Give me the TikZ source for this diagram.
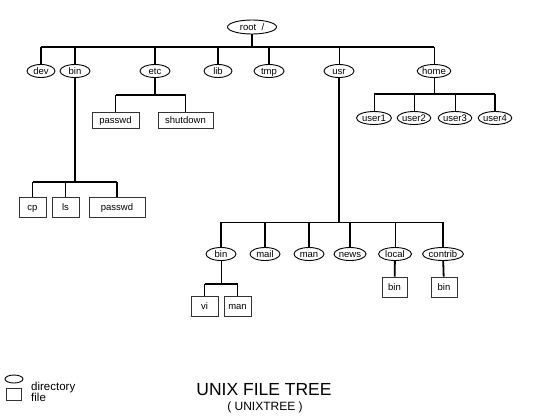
\documentclass[tikz,border=0pt]{standalone}
\usepackage{fontspec}
\setmainfont{Liberation Sans}
\usetikzlibrary{shapes.geometric}

\begin{document}
\begin{tikzpicture}[
            x=1pt, y=-1pt,
            every node/.style={font=\fontsize{9.5}{10}\selectfont, inner sep=0pt},
            dir/.style={draw, ellipse, line width=0.9pt, minimum width=28pt, minimum height=13pt, text height=7.5pt, text depth=1pt},
            file/.style={draw=black!80, rectangle, line width=0.9pt, minimum width=27pt, minimum height=20pt, text height=7.5pt, text depth=1pt},
            thickline/.style={line width=1.8pt},
            thinline/.style={line width=0.9pt},
            ]
            \useasboundingbox (0,0) rectangle (543,416);
            % directories
            \node[dir, minimum width=49pt, minimum height=14pt] (root) at (252,27) {root\ \ /};
            \node[dir] (dev) at (41,71) {dev};
            \node[dir, minimum width=30pt] (bin) at (75,71) {bin};
            \node[dir, minimum width=30pt] (etc) at (155,71) {etc};
            \node[dir] (lib) at (218,71) {lib};
            \node[dir, minimum width=30pt] (tmp) at (269,71) {tmp};
            \node[dir, minimum width=30pt] (usr) at (339,71) {usr};
            \node[dir, minimum width=30pt] (home) at (434,71) {home};
            \node[dir, minimum width=35pt] (user1) at (374,118) {user1};
            \node[dir, minimum width=33pt] (user2) at (414,118) {user2};
            \node[dir, minimum width=33pt] (user3) at (455,118) {user3};
            \node[dir, minimum width=33pt] (user4) at (495,118) {user4};
            \node[dir, minimum width=30pt] (ubin) at (221,254) {bin};
            \node[dir, minimum width=30pt] (mail) at (265,254) {mail};
            \node[dir, minimum width=30pt] (man) at (309,254) {man};
            \node[dir, minimum width=32pt] (news) at (350,254) {news};
            \node[dir, minimum width=33pt] (local) at (395,254) {local};
            \node[dir, minimum width=41pt] (contrib) at (443,254) {contrib};
            % files
            \node[file, minimum width=47pt, minimum height=16pt] (epasswd) at (115.5,120) {passwd};
            \node[file, minimum width=55pt, minimum height=16pt] (shutdown) at (185.5,120) {shutdown};
            \node[file] (cp) at (32.5,207) {cp};
            \node[file] (ls) at (65.5,207) {ls};
            \node[file, minimum width=56pt] (bpasswd) at (117,207) {passwd};
            \node[file] (vi) at (204.5,306) {vi};
            \node[file] (uman) at (237.5,306) {man};
            \node[file, minimum width=25pt] (lbin) at (394.5,287) {bin};
            \node[file, minimum width=26pt] (cbin) at (444,287) {bin};
            % junctions
            \coordinate (rootj) at (252,47);
            \coordinate (etcj) at (155,95);
            \coordinate (binj) at (75,182);
            \coordinate (usrj) at (339,222);
            \coordinate (ubinj) at (221,284);
            \coordinate (homej) at (434,94);
            % root
            \draw[thickline] (root) -- (rootj);
            \draw[thickline] (rootj -| dev) -- (rootj -| home);
            \draw[thickline] (rootj -| dev) -- (dev);
            \draw[thickline] (rootj -| bin) -- (bin);
            \draw[thickline] (rootj -| etc) -- (etc);
            \draw[thickline] (rootj -| lib) -- (lib);
            \draw[thickline] (rootj -| tmp) -- (tmp);
            \draw[thinline] (rootj -| usr) -- (usr);
            \draw[thinline] (rootj -| home) -- (home);
            % etc
            \draw[thickline] (etc) -- (etcj);
            \draw[thickline] (etcj -| epasswd) -- (etcj -| shutdown);
            \draw[thickline] (etcj -| epasswd) -- (epasswd);
            \draw[thickline] (etcj -| shutdown) -- (shutdown);
            % bin
            \draw[thickline] (bin) -- (binj);
            \draw[thickline] (binj -| cp) -- (binj -| bpasswd);
            \draw[thickline] (binj -| cp) -- (cp);
            \draw[thickline] (binj -| ls) -- (ls);
            \draw[thickline] (binj -| bpasswd) -- (bpasswd);
            % home
            \draw[thinline] (home) -- (homej);
            \draw[thickline] (homej -| user1) -- (homej -| user4);
            \draw[thinline] (homej -| user1) -- (user1);
            \draw[thinline] (homej -| user2) -- (user2);
            \draw[thinline] (homej -| user3) -- (user3);
            \draw[thickline] (homej -| user4) -- (user4);
            % usr
            \draw[thickline] (usr) -- (usrj);
            \draw[thinline] (usrj -| ubin) -- (usrj -| contrib);
            \draw[thickline] (usrj -| ubin) -- (ubin);
            \draw[thickline] (usrj -| mail) -- (mail);
            \draw[thickline] (usrj -| man) -- (man);
            \draw[thickline] (usrj -| news) -- (news);
            \draw[thinline] (usrj -| local) -- (local);
            \draw[thickline] (usrj -| contrib) -- (contrib);
            \draw[thinline] (ubin) -- (ubinj);
            \draw[thickline] (ubinj -| vi) -- (ubinj -| uman);
            \draw[thickline] (ubinj -| vi) -- (vi);
            \draw[thickline] (ubinj -| uman) -- (uman);
            \draw[thickline] (local) -- (lbin);
            \draw[thickline] (contrib) -- (cbin);
            % legend and title
            \node[dir, minimum width=18pt, minimum height=8pt, text height=0pt, text depth=0pt] (legdir) at (14,379) {};
            \node[file, minimum width=15pt, minimum height=12pt, text height=0pt, text depth=0pt] (legfile) at (13.5,394) {};
            \node[anchor=base west, font=\fontsize{11.5}{11.5}\selectfont] (legdirtext) at (31,390) {directory};
            \node[anchor=base west, font=\fontsize{11.5}{11.5}\selectfont] (legfiletext) at (31,401) {file};
            \node[anchor=base, font=\fontsize{17.5}{17.5}\selectfont] (title) at (264,395) {UNIX FILE TREE};
            \node[anchor=base, font=\fontsize{12}{12}\selectfont] (subtitle) at (265,410) {( UNIXTREE )};
        \end{tikzpicture}
\end{document}
